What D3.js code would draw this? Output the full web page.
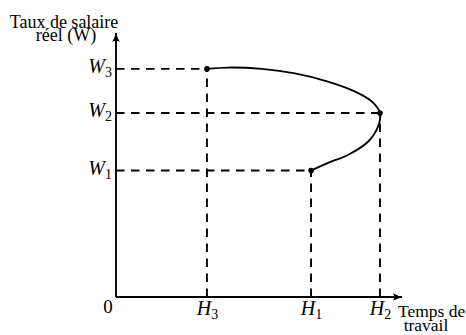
<!DOCTYPE html>
<html>
<head>
<meta charset="utf-8">
<script src="https://cdn.jsdelivr.net/npm/d3@7"></script>
<style>
  body { margin: 0; background: #fff; }
</style>
</head>
<body>
<div id="chart"></div>
<script>
// tick levels (arbitrary units)
var hNames = ['3', '1', '2'];
var hVals = [31.8, 68.2, 92.3];
var wNames = ['3', '2', '1'];
var wVals = [86.4, 69.7, 47.9];

// backward-bending supply curve, from (H3,W3) to (H1,W1)
var curveH = [31.8, 39.2, 51.0, 62.6, 74.1, 83.6, 89.5, 92.3, 91.6, 88.1, 81.1, 74.1, 68.2];
var curveW = [86.4, 86.9, 86.4, 84.7, 81.6, 77.8, 74.0, 69.7, 64.5, 58.8, 53.8, 50.8, 47.9];

// points marked with a dot
var dotH = [31.8, 92.3, 68.2];
var dotW = [86.4, 69.7, 47.9];

var width = 466, height = 335;
var serif = '"Liberation Serif", "Times New Roman", serif';

var svg = d3.select('#chart').append('svg')
    .attr('width', width)
    .attr('height', height)
    .style('font-family', serif);

var x = d3.scaleLinear().domain([0, 100]).range([116, 402]);
var y = d3.scaleLinear().domain([0, 100]).range([297, 33]);

var defs = svg.append('defs');
defs.append('marker')
    .attr('id', 'arrow')
    .attr('viewBox', '0 -5 10 10')
    .attr('refX', 9)
    .attr('refY', 0)
    .attr('markerWidth', 10)
    .attr('markerHeight', 10)
    .attr('markerUnits', 'userSpaceOnUse')
    .attr('orient', 'auto')
  .append('path')
    .attr('d', 'M0,-3.8 Q5,-1 10,0 Q5,1 0,3.8 Q2.5,0 0,-3.8Z')
    .attr('fill', '#000');

// dashed guide lines, starting from the axes
svg.selectAll('.hguide')
    .data(dotH)
    .enter()
    .append('line')
    .attr('x1', x(0))
    .attr('x2', function(d) { return x(d); })
    .attr('y1', function(d, i) { return y(dotW[i]); })
    .attr('y2', function(d, i) { return y(dotW[i]); })
    .attr('stroke', '#000')
    .attr('stroke-width', 1.9)
    .attr('stroke-dasharray', '8.5,6.5');

svg.selectAll('.vguide')
    .data(dotH)
    .enter()
    .append('line')
    .attr('x1', function(d) { return x(d); })
    .attr('x2', function(d) { return x(d); })
    .attr('y1', y(0))
    .attr('y2', function(d, i) { return y(dotW[i]); })
    .attr('stroke', '#000')
    .attr('stroke-width', 1.9)
    .attr('stroke-dasharray', '8.5,6.5');

// axes
svg.append('line')
    .attr('x1', x(0)).attr('y1', y(0))
    .attr('x2', x(0)).attr('y2', y(100))
    .attr('stroke', '#000')
    .attr('stroke-width', 1.9)
    .attr('marker-end', 'url(#arrow)');
svg.append('line')
    .attr('x1', x(0)).attr('y1', y(0))
    .attr('x2', x(100)).attr('y2', y(0))
    .attr('stroke', '#000')
    .attr('stroke-width', 1.9)
    .attr('marker-end', 'url(#arrow)');

// tick labels via d3 axes
var yAxis = svg.append('g')
    .attr('transform', 'translate(' + x(0) + ',0)')
    .call(d3.axisLeft(y).tickValues(wVals).tickSize(0).tickPadding(4).tickFormat(''));
yAxis.select('.domain').remove();
yAxis.selectAll('.tick text')
    .attr('dy', 4)
    .style('font-size', '20px')
    .style('font-family', serif)
    .each(function(d, i) {
        var t = d3.select(this);
        t.append('tspan').style('font-style', 'italic').text('W');
        t.append('tspan').attr('dy', 3.5).style('font-size', '14px').text(wNames[i]);
    });

var xAxis = svg.append('g')
    .attr('transform', 'translate(0,' + y(0) + ')')
    .call(d3.axisBottom(x).tickValues(hVals).tickSize(0).tickPadding(5).tickFormat(''));
xAxis.select('.domain').remove();
xAxis.selectAll('.tick text')
    .attr('dy', 13)
    .style('font-size', '20px')
    .style('font-family', serif)
    .each(function(d, i) {
        var t = d3.select(this);
        t.append('tspan').style('font-style', 'italic').text('H');
        t.append('tspan').attr('dy', 3.5).style('font-size', '14px').text(hNames[i]);
    });

// curve
var pts = curveH.map(function(h, i) { return [h, curveW[i]]; });
var line = d3.line()
    .x(function(d) { return x(d[0]); })
    .y(function(d) { return y(d[1]); })
    .curve(d3.curveCatmullRom.alpha(0.5));

svg.append('path')
    .datum(pts)
    .attr('d', line)
    .attr('fill', 'none')
    .attr('stroke', '#000')
    .attr('stroke-width', 1.9);

svg.selectAll('.dot')
    .data(dotH)
    .enter()
    .append('circle')
    .attr('cx', function(d) { return x(d); })
    .attr('cy', function(d, i) { return y(dotW[i]); })
    .attr('r', 2.8)
    .attr('fill', '#000');

// origin and axis titles
svg.append('text')
    .attr('x', x(0) - 8)
    .attr('y', y(0) + 16)
    .attr('text-anchor', 'middle')
    .style('font-size', '19px')
    .text('0');

svg.append('text')
    .attr('x', 64)
    .attr('y', 28)
    .attr('text-anchor', 'middle')
    .style('font-size', '18px')
    .text('Taux de salaire');
svg.append('text')
    .attr('x', 66)
    .attr('y', 41)
    .attr('text-anchor', 'middle')
    .style('font-size', '18px')
    .text('réel (W)');

svg.append('text')
    .attr('x', 398)
    .attr('y', 317)
    .style('font-size', '17.5px')
    .text('Temps de');
svg.append('text')
    .attr('x', 426)
    .attr('y', 331)
    .attr('text-anchor', 'middle')
    .style('font-size', '17.5px')
    .text('travail');
</script>
</body>
</html>
